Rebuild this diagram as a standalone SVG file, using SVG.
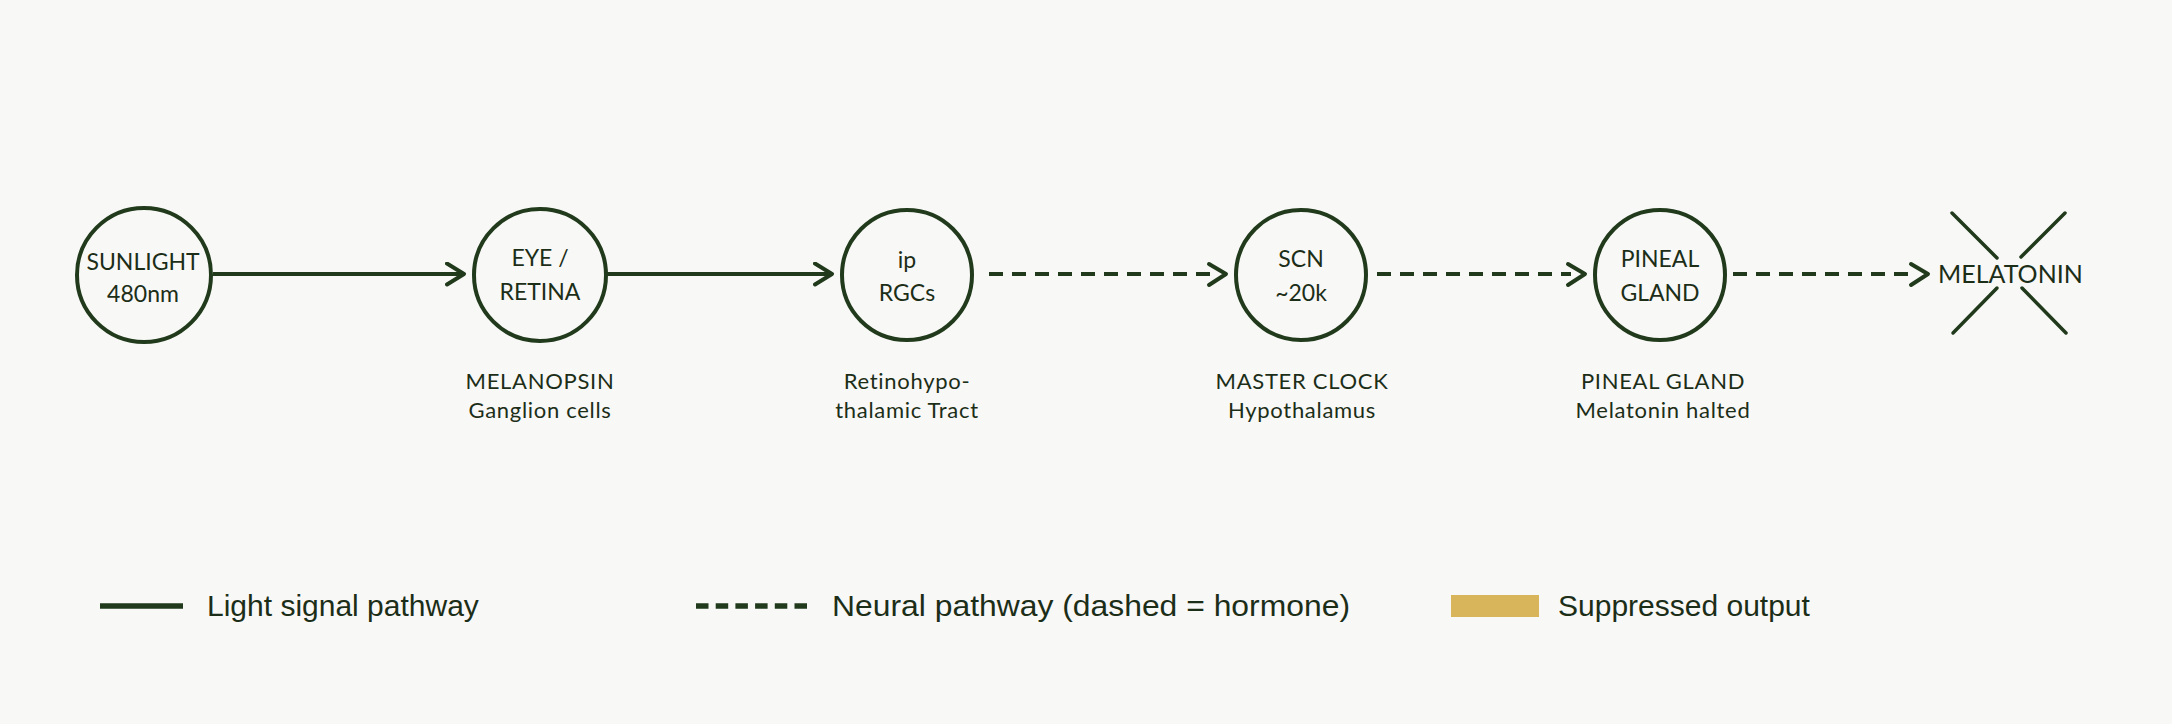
<svg xmlns="http://www.w3.org/2000/svg" width="2172" height="724" viewBox="0 0 2172 724">
  <defs>
    <marker id="chev" markerWidth="24" markerHeight="28" refX="19" refY="12" orient="auto" markerUnits="userSpaceOnUse">
      <polyline points="2,1.5 19,12 2,22.5" fill="none" stroke="#213a1c" stroke-width="4" stroke-linecap="round" stroke-linejoin="round"/>
    </marker>
    <style>
      .node circle { fill: none; stroke: #213a1c; stroke-width: 4; }
      .nt { font-family: Lato, "Noto Sans", sans-serif; font-size: 23px; fill: #1c2e18; text-anchor: middle; }
      .lbl { font-family: Lato, "Noto Sans", sans-serif; font-size: 22px; letter-spacing: 0.7px; fill: #1c2e18; text-anchor: middle; }
      .edge { fill: none; stroke: #213a1c; stroke-width: 4; }
      .dash { stroke-dasharray: 14 9; }
      .leg { font-family: "Liberation Sans", Arial, sans-serif; font-size: 30px; fill: #1c2e18; }
      .cross { stroke: #213a1c; stroke-width: 3.5; stroke-linecap: round; }
    </style>
  </defs>
  <rect width="2172" height="724" fill="#f8f8f6"/>

  <g id="connectors">
    <line class="edge" x1="213" y1="274" x2="464" y2="274" marker-end="url(#chev)"/>
    <line class="edge" x1="606" y1="274" x2="832" y2="274" marker-end="url(#chev)"/>
    <line class="edge dash" x1="989" y1="274" x2="1212" y2="274"/>
    <polyline class="edge" points="1209,264 1226,274 1209,285" stroke-linecap="round" stroke-linejoin="round"/>
    <line class="edge dash" x1="1377" y1="274" x2="1571" y2="274"/>
    <polyline class="edge" points="1568,264 1585,274 1568,285" stroke-linecap="round" stroke-linejoin="round"/>
    <line class="edge dash" x1="1733" y1="274" x2="1914" y2="274"/>
    <polyline class="edge" points="1911,264 1928,274 1911,285" stroke-linecap="round" stroke-linejoin="round"/>
  </g>

  <g id="node-sunlight" class="node">
    <circle cx="144" cy="275" r="67"/>
    <text class="nt" x="143" y="270">SUNLIGHT</text>
    <text class="nt" x="143" y="302">480nm</text>
  </g>

  <g id="node-eye" class="node">
    <circle cx="540" cy="275" r="66"/>
    <text class="nt" x="540" y="266">EYE /</text>
    <text class="nt" x="540" y="300">RETINA</text>
    <text class="lbl" x="540" y="389">MELANOPSIN</text>
    <text class="lbl" x="540" y="418">Ganglion cells</text>
  </g>

  <g id="node-iprgc" class="node">
    <circle cx="907" cy="275" r="65"/>
    <text class="nt" x="907" y="268">ip</text>
    <text class="nt" x="907" y="301">RGCs</text>
    <text class="lbl" x="907" y="389">Retinohypo-</text>
    <text class="lbl" x="907" y="418">thalamic Tract</text>
  </g>

  <g id="node-scn" class="node">
    <circle cx="1301" cy="275" r="65"/>
    <text class="nt" x="1301" y="267">SCN</text>
    <text class="nt" x="1301" y="301">~20k</text>
    <text class="lbl" x="1302" y="389">MASTER CLOCK</text>
    <text class="lbl" x="1302" y="418">Hypothalamus</text>
  </g>

  <g id="node-pineal" class="node">
    <circle cx="1660" cy="275" r="65"/>
    <text class="nt" x="1660" y="267">PINEAL</text>
    <text class="nt" x="1660" y="301">GLAND</text>
    <text class="lbl" x="1663" y="389">PINEAL GLAND</text>
    <text class="lbl" x="1663" y="418">Melatonin halted</text>
  </g>

  <g id="node-melatonin">
    <line class="cross" x1="1952" y1="213" x2="1997" y2="258"/>
    <line class="cross" x1="2065" y1="213" x2="2021" y2="257"/>
    <line class="cross" x1="1997" y1="288" x2="1953" y2="333"/>
    <line class="cross" x1="2022" y1="288" x2="2066" y2="333"/>
    <text x="1938" y="283" font-family="Lato, 'Noto Sans', sans-serif" font-size="25" fill="#1c2e18">MELATONIN</text>
  </g>

  <g id="legend">
    <line x1="100" y1="606" x2="183" y2="606" stroke="#213a1c" stroke-width="5.5"/>
    <text class="leg" x="207" y="616">Light signal pathway</text>
    <line x1="696" y1="606" x2="807" y2="606" stroke="#213a1c" stroke-width="5.5" stroke-dasharray="12.5 7.2"/>
    <text class="leg" x="832" y="616" textLength="518" lengthAdjust="spacingAndGlyphs">Neural pathway (dashed = hormone)</text>
    <rect x="1451" y="595" width="88" height="22" fill="#d8b55a"/>
    <text class="leg" x="1558" y="616">Suppressed output</text>
  </g>
</svg>
